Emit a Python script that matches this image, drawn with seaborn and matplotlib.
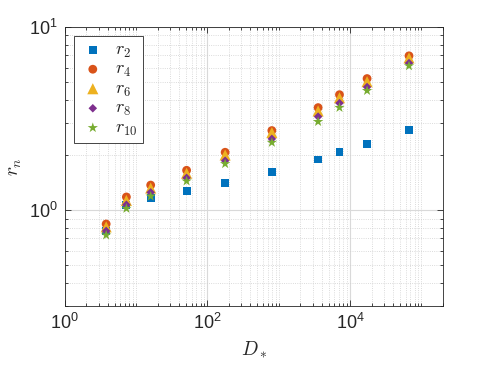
import matplotlib
matplotlib.use('Agg')
import matplotlib.pyplot as plt
from matplotlib.font_manager import FontProperties
from matplotlib.ticker import LogLocator, FixedLocator, NullFormatter
import seaborn as sns
import numpy as np
import pandas as pd

# data
d_star = [3.8, 7.3, 16, 51, 177, 800, 3560, 7100, 17300, 67000]
r2 = [0.77, 1.07, 1.16, 1.27, 1.40, 1.61, 1.89, 2.07, 2.29, 2.73]
r4 = [0.84, 1.18, 1.37, 1.65, 2.07, 2.72, 3.63, 4.27, 5.23, 6.96]
r6 = [0.81, 1.13, 1.32, 1.59, 2.00, 2.65, 3.48, 4.11, 5.03, 6.78]
r8 = [0.77, 1.07, 1.25, 1.50, 1.86, 2.45, 3.24, 3.84, 4.70, 6.35]
r10 = [0.73, 1.02, 1.19, 1.44, 1.79, 2.34, 3.04, 3.63, 4.49, 6.13]

series = ['$r_2$', '$r_4$', '$r_6$', '$r_8$', '$r_{10}$']
colors = ['#0072BD', '#D95319', '#EDB120', '#7E2F8E', '#77AC30']
markers = ['s', 'o', '^', 'D', '*']
sizes = [32, 40, 64, 19, 60]

sns.set_style('ticks')
plt.rcParams['font.family'] = ['Liberation Sans', 'DejaVu Sans']
plt.rcParams['mathtext.fontset'] = 'custom'
plt.rcParams['mathtext.rm'] = 'Liberation Sans'
plt.rcParams['mathtext.it'] = 'Liberation Sans:italic'

fig = plt.figure(figsize=(4.91, 3.65), dpi=100)
ax = fig.add_axes([0.132, 0.162, 0.770, 0.764])

for name, vals, c, m, s in zip(series, [r2, r4, r6, r8, r10], colors, markers, sizes):
    df = pd.DataFrame({'D': d_star, 'r': vals})
    sns.scatterplot(data=df, x='D', y='r', ax=ax, color=c, marker=m, s=s,
                    edgecolor='none', label=name, zorder=3)

ax.set_xscale('log')
ax.set_yscale('log')
ax.set_xlim(1, 2e5)
ax.set_ylim(0.3, 10)

ax.xaxis.set_major_locator(FixedLocator([1, 1e2, 1e4]))
xminor = [k * 10.0 ** e for e in range(0, 6) for k in range(1, 10)]
xminor = [v for v in xminor if v not in (1, 1e2, 1e4)]
ax.xaxis.set_minor_locator(FixedLocator(xminor))
ax.xaxis.set_minor_formatter(NullFormatter())
ax.yaxis.set_major_locator(FixedLocator([1, 10]))
ax.yaxis.set_minor_locator(LogLocator(base=10, subs=np.arange(2, 10)))
ax.yaxis.set_minor_formatter(NullFormatter())

ax.grid(which='major', color='#d9d9d9', linewidth=0.8, linestyle='-')
ax.grid(which='minor', color='#cfcfcf', linewidth=0.6, linestyle=':')
ax.set_axisbelow(True)

ax.tick_params(which='both', direction='in', top=True, right=True,
               colors='#262626', labelsize=13, width=0.6)
ax.tick_params(which='major', length=4, pad=5)
ax.tick_params(which='minor', length=2)
for sp in ax.spines.values():
    sp.set_color('#262626')
    sp.set_linewidth(0.6)

ax.set_xlabel('$D_*$', fontsize=14, math_fontfamily='cm', labelpad=5)
ax.set_ylabel('$r_n$', fontsize=14, math_fontfamily='cm', labelpad=4)

leg = ax.legend(loc='upper left', prop=FontProperties(size=13, math_fontfamily='cm'),
                fancybox=False, edgecolor='#262626', framealpha=1,
                handletextpad=0.5, borderpad=0.3, labelspacing=0.08,
                handlelength=1.5, borderaxespad=0.5)
leg.get_frame().set_linewidth(0.6)

fig.savefig('out.png', dpi=100)
